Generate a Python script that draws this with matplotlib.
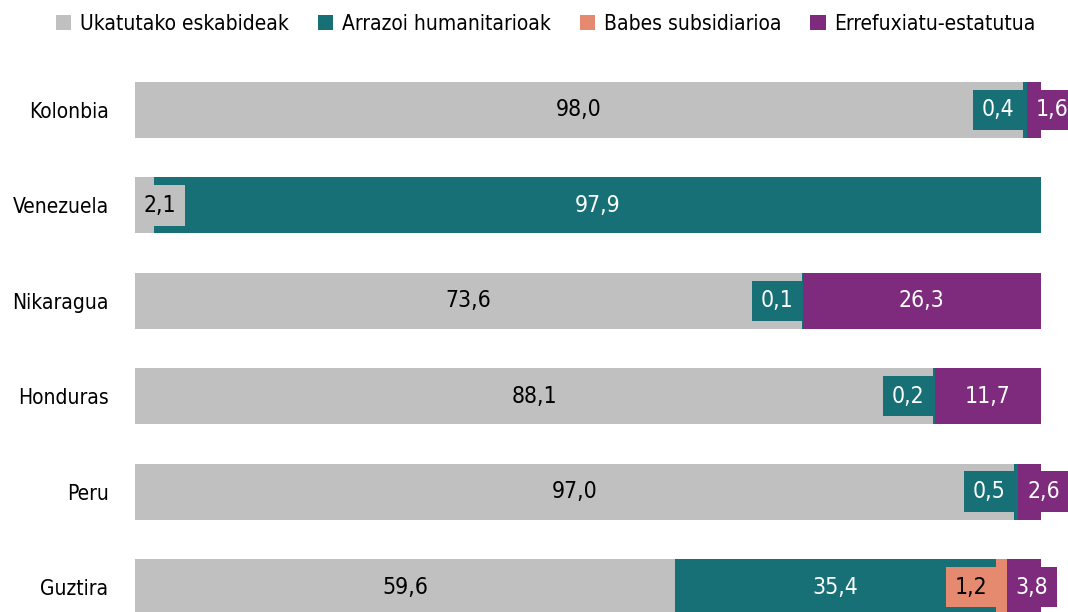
import matplotlib.pyplot as plt
from matplotlib.patches import Patch

plt.rcParams['font.family'] = ['DejaVu Sans']
plt.rcParams['font.stretch'] = 'condensed'

# datuak
herrialdeak = ['Kolonbia', 'Venezuela', 'Nikaragua', 'Honduras', 'Peru', 'Guztira']
ukatuak = [98.0, 2.1, 73.6, 88.1, 97.0, 59.6]
humanitarioak = [0.4, 97.9, 0.1, 0.2, 0.5, 35.4]
subsidiarioa = [0.0, 0.0, 0.0, 0.0, 0.0, 1.2]
errefuxiatu = [1.6, 0.0, 26.3, 11.7, 2.6, 3.8]

serieak = ['Ukatutako eskabideak', 'Arrazoi humanitarioak', 'Babes subsidiarioa', 'Errefuxiatu-estatutua']
balioak = [ukatuak, humanitarioak, subsidiarioa, errefuxiatu]
koloreak = ['#c0c0c0', '#167076', '#e58a6e', '#7e2b7e']
testu_kolorea = ['black', 'white', 'black', 'white']

fs = 16.5
pad = 0.38

fig = plt.figure(figsize=(10.68, 6.12), dpi=100)
ax = fig.add_axes([135 / 1068, 0, (1041 - 135) / 1068, 1])

ezkerra = [0.0] * len(herrialdeak)
for s, vals in enumerate(balioak):
    ax.barh(range(len(herrialdeak)), vals, left=ezkerra, height=0.587,
            color=koloreak[s], linewidth=0)
    for i, v in enumerate(vals):
        if v <= 0:
            continue
        x0 = ezkerra[i]
        txt = f'{v:.1f}'.replace('.', ',')
        if v >= 8:
            ax.text(x0 + v / 2, i, txt, ha='center', va='center',
                    fontsize=fs, color=testu_kolorea[s])
        else:
            # txiki: kutxa kolorearekin, segmentuaren hasieran
            if s in (0, 3):
                ha, dx = 'left', pad * fs
            else:
                ha, dx = 'right', -pad * fs
            ax.annotate(txt, (x0, i), xytext=(dx, 0), textcoords='offset points',
                        ha=ha, va='center', fontsize=fs, color=testu_kolorea[s],
                        bbox=dict(boxstyle=f'square,pad={pad}', fc=koloreak[s], ec='none'))
    ezkerra = [a + b for a, b in zip(ezkerra, vals)]

ax.set_xlim(0, 100)
ax.set_ylim(5.262, -1.153)
ax.set_yticks(range(len(herrialdeak)))
ax.set_yticklabels(herrialdeak, fontsize=15)
ax.tick_params(axis='y', length=0, pad=19)
ax.set_xticks([])
for sp in ax.spines.values():
    sp.set_visible(False)

eskuak = [Patch(facecolor=c, edgecolor='none') for c in koloreak]
fig.legend(eskuak, serieak, loc='upper center', bbox_to_anchor=(0.511, 1.008),
           ncol=4, frameon=False, fontsize=15, handlelength=0.75, handleheight=0.75,
           handletextpad=0.4, columnspacing=1.4)

fig.savefig('out.png', dpi=100)
